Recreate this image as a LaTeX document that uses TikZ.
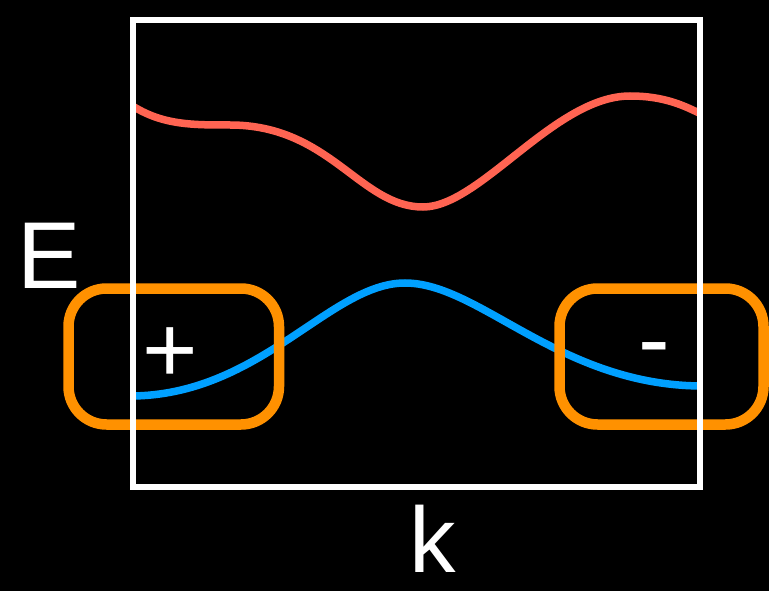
\documentclass[tikz,border=0pt]{standalone}
\usepackage{fontspec}
\setmainfont{Liberation Sans}
\definecolor{bandred}{RGB}{255,100,82}
\definecolor{bandblue}{RGB}{0,160,255}
\definecolor{edgeorange}{RGB}{255,145,0}
\usetikzlibrary{positioning}

\begin{document}
\begin{tikzpicture}[x=1pt, y=-1pt,
		band/.style={line width=7.5pt, line cap=round},
		edgebox/.style={draw=edgeorange, line width=10.5pt, rounded corners=38pt},
		lbl/.style={text=white, font=\fontsize{95}{95}\selectfont, inner sep=0pt}]
	% fondo
	\fill[black] (0,0) rectangle (769,591);
	\useasboundingbox (0,0) rectangle (769,591);
	% bandas
	\begin{scope}
		\clip (133,20) rectangle (700,487);
		\draw[band, bandred] (128,103) .. controls (160,125) and (190,125) .. (230,125)
			.. controls (330,125) and (360,207) .. (423,207)
			.. controls (480,207) and (555,96) .. (630,96)
			.. controls (665,96) and (685,106) .. (703,115);
		\draw[band, bandblue] (130,396) .. controls (260,396) and (330,283) .. (405,283)
			.. controls (480,283) and (560,386) .. (703,386);
	\end{scope}
	% bordes
	\draw[edgebox] (68.5,288.5) rectangle (279,424.5);
	\draw[edgebox] (559.5,288.5) rectangle (763.5,424.5);
	\draw[white, line width=6pt] (133,20) rectangle (700,487);
	% etiquetas
	\node[lbl] (plus) at (170,355) {+};
	\node[lbl] (minus) at (654,357) {-};
	\node[lbl] (E) at (49,256) {E};
	\node[lbl, font=\fontsize{93}{93}\selectfont] (k) at (433,539) {k};
\end{tikzpicture}
\end{document}
